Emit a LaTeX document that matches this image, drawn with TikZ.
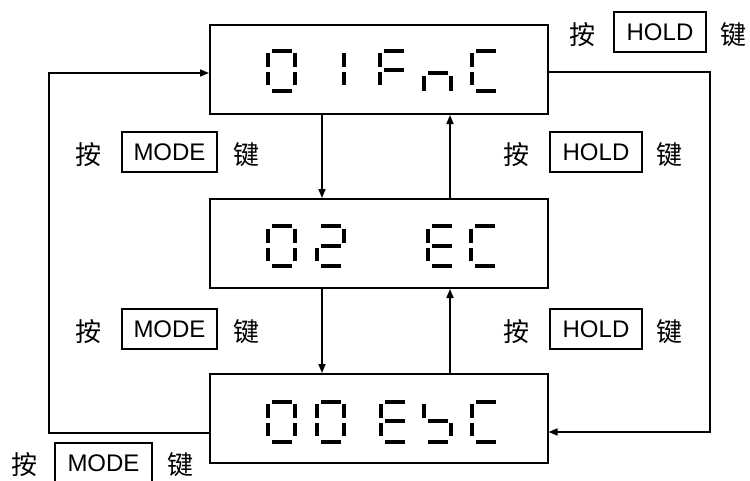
\documentclass[tikz,border=0pt]{standalone}
\usepackage{fontspec}
\setmainfont{Liberation Sans}
\newfontfamily\cjk{Noto Sans CJK SC}
\usetikzlibrary{arrows.meta}
\tikzset{
  seg/.style={line width=4pt, line cap=butt},
  dispbox/.style={draw, line width=2pt, minimum width=338pt, minimum height=89pt, inner sep=0pt},
  keybox/.style={draw, line width=1.8pt, minimum height=40pt, inner sep=0pt, font=\fontsize{24}{24}\selectfont},
  hanzi/.style={inner sep=0pt, font=\fontsize{26}{26}\selectfont\cjk},
  arr/.style={line width=1.6pt, -{Triangle[length=9pt,width=7pt]}},
}
\newcommand\sgA{\draw[seg] (4,0) -- (24,0);}
\newcommand\sgB{\draw[seg] (27,2.5) -- (27,16.5);}
\newcommand\sgC{\draw[seg] (27,21.5) -- (27,34.5);}
\newcommand\sgD{\draw[seg] (4,40) -- (24,40);}
\newcommand\sgE{\draw[seg] (0,21.5) -- (0,34.5);}
\newcommand\sgF{\draw[seg] (0,2.5) -- (0,16.5);}
\newcommand\sgG{\draw[seg] (4,19.5) -- (24,19.5);}
\newcommand\sgNG{\draw[seg] (4,22) -- (24,22);}
\newcommand\sgNE{\draw[seg] (0,25) -- (0,40);}
\newcommand\sgNC{\draw[seg] (27,25) -- (27,40);}
\newcommand\sevseg[3]{\begin{scope}[shift={(#1,#2)}]#3\end{scope}}
\begin{document}
\begin{tikzpicture}[x=1pt,y=-1pt]
\useasboundingbox (0,0) rectangle (750,480);
% display boxes
\node[dispbox] (b1) at (379,69.5) {};
\node[dispbox] (b2) at (379,243.5) {};
\node[dispbox] (b3) at (378.5,418.5) {};
% box 1: 01FnC
\sevseg{268}{50.5}{\sgA\sgB\sgC\sgD\sgE\sgF}
\sevseg{317}{50.5}{\sgB\sgC}
\sevseg{380}{50.5}{\sgA\sgF\sgE\sgG}
\sevseg{424}{50.5}{\sgNG\sgNE\sgNC}
\sevseg{472}{50.5}{\sgA\sgF\sgE\sgD}
% box 2: 02 EC
\sevseg{268}{226}{\sgA\sgB\sgC\sgD\sgE\sgF}
\sevseg{317}{226}{\sgA\sgB\sgG\sgE\sgD}
\sevseg{428}{226}{\sgA\sgF\sgG\sgE\sgD}
\sevseg{471}{226}{\sgA\sgF\sgE\sgD}
% box 3: 00EsC
\sevseg{268}{401.5}{\sgA\sgB\sgC\sgD\sgE\sgF}
\sevseg{317}{401.5}{\sgA\sgB\sgC\sgD\sgE\sgF}
\sevseg{381}{401.5}{\sgA\sgF\sgG\sgE\sgD}
\sevseg{424}{401.5}{\sgF\sgG\sgC\sgD}
\sevseg{472}{401.5}{\sgA\sgF\sgE\sgD}
% connector coordinates
\coordinate (dn) at (322,0);
\coordinate (up) at (450,0);
\coordinate (rt) at (710,72);
\coordinate (rb) at (710,432);
\coordinate (lt) at (49,73);
\coordinate (lb) at (49,433);
\draw[arr] (b1.south -| dn) -- (b2.north -| dn);
\draw[arr] (b2.south -| dn) -- (b3.north -| dn);
\draw[arr] (b2.north -| up) -- (b1.south -| up);
\draw[arr] (b3.north -| up) -- (b2.south -| up);
\draw[arr] (b1.east |- rt) -- (rt) -- (rb) -- (b3.east |- rb);
\draw[arr] (b3.west |- lb) -- (lb) -- (lt) -- (b1.west |- lt);
% labels
\node[hanzi] (k1) at (88.5,154.5) {按};
\node[keybox, minimum width=95pt] (m1) at (169.5,152) {MODE};
\node[hanzi] (j1) at (246,154.5) {键};
\node[hanzi] (k2) at (88.5,331.5) {按};
\node[keybox, minimum width=95pt] (m2) at (169.5,329) {MODE};
\node[hanzi] (j2) at (246,331.5) {键};
\node[hanzi] (k3) at (516.5,154.5) {按};
\node[keybox, minimum width=92pt] (h3) at (596,152) {HOLD};
\node[hanzi] (j3) at (669,154.5) {键};
\node[hanzi] (k4) at (516.5,331.5) {按};
\node[keybox, minimum width=92pt] (h4) at (596,329) {HOLD};
\node[hanzi] (j4) at (669,331.5) {键};
\node[hanzi] (k5) at (582.5,35) {按};
\node[keybox, minimum width=92pt] (h5) at (660,32) {HOLD};
\node[hanzi] (j5) at (733.5,35) {键};
\node[hanzi] (k6) at (25,464.5) {按};
\node[keybox, minimum width=97pt] (m6) at (103.5,463) {MODE};
\node[hanzi] (j6) at (180,464.5) {键};
\end{tikzpicture}
\end{document}
